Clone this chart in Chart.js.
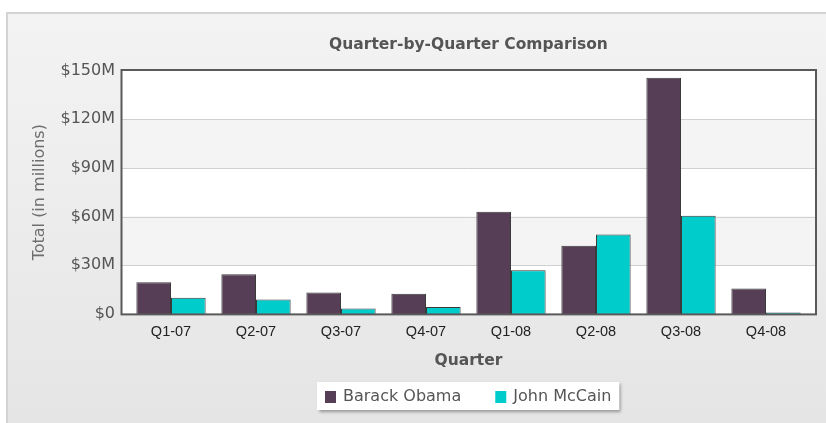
<!DOCTYPE html>
<html>
<head>
<meta charset="utf-8">
<script src="https://cdn.jsdelivr.net/npm/chart.js@4.4.1/dist/chart.umd.min.js"></script>
<style>
  html, body { margin: 0; padding: 0; background: #fff; }
  canvas { display: block; }
</style>
</head>
<body>
<canvas id="mycanvas" width="826" height="423"></canvas>
<script>
// values, in millions of dollars
var quarters = ['Q1-07', 'Q2-07', 'Q3-07', 'Q4-07', 'Q1-08', 'Q2-08', 'Q3-08', 'Q4-08'];
var obama = [19.5, 24.5, 13.2, 12.4, 63, 42, 145.6, 15.7];
var mccain = [10, 8.9, 3.4, 4.2, 26.9, 48.9, 60.5, 0.9];
var yTicks = [0, 30, 60, 90, 120, 150];

// panel, striped plot frame and grid lines
var frame = {
    id: 'frame',
    beforeDraw: function(chart) {
        var ctx = chart.ctx;
        ctx.save();
        ctx.fillStyle = '#ffffff';
        ctx.fillRect(0, 0, chart.width, chart.height);
        ctx.fillStyle = '#d3d3d3';
        ctx.fillRect(6, 12, chart.width - 6, chart.height - 12);
        var g = ctx.createLinearGradient(0, 14, 0, chart.height);
        g.addColorStop(0, '#f3f3f3');
        g.addColorStop(1, '#e5e5e5');
        ctx.fillStyle = g;
        ctx.fillRect(8, 14, chart.width - 8, chart.height - 14);
        ctx.restore();
    },
    beforeDatasetsDraw: function(chart) {
        var ctx = chart.ctx, a = chart.chartArea, y = chart.scales.y;
        var left = a.left - 7, right = a.right + 7;
        ctx.save();
        for (var i = 0; i < yTicks.length - 1; i++) {
            var y0 = y.getPixelForValue(yTicks[i]);
            var y1 = y.getPixelForValue(yTicks[i + 1]);
            ctx.fillStyle = (i % 2) ? '#f4f4f4' : '#ffffff';
            ctx.fillRect(left, y1, right - left, y0 - y1);
        }
        ctx.strokeStyle = '#d0d0d0';
        ctx.lineWidth = 1;
        for (var j = 1; j < yTicks.length - 1; j++) {
            var py = Math.round(y.getPixelForValue(yTicks[j])) + 0.5;
            ctx.beginPath();
            ctx.moveTo(left, py);
            ctx.lineTo(right, py);
            ctx.stroke();
        }
        ctx.restore();
    },
    afterDatasetsDraw: function(chart) {
        var ctx = chart.ctx, a = chart.chartArea;
        ctx.save();
        ctx.strokeStyle = '#595959';
        ctx.lineWidth = 2;
        ctx.strokeRect(a.left - 7, a.top - 0.5, a.right - a.left + 14.5, a.bottom - a.top + 1);
        ctx.restore();
    }
};

// white legend box with shadow, below the axis title
var legendBox = {
    id: 'legendBox',
    afterDraw: function(chart) {
        var ctx = chart.ctx, a = chart.chartArea;
        var sets = chart.data.datasets;
        ctx.save();
        ctx.font = '16px "DejaVu Sans"';
        var widths = sets.map(function(d) { return ctx.measureText(d.label).width; });
        var sq = 11, gap = 7, between = 34, pad = 8;
        var w = pad * 2 + sets.length * (sq + gap) + between * (sets.length - 1);
        widths.forEach(function(v) { w += v; });
        var x = Math.round((a.left + a.right) / 2 - w / 2), y = chart.height - 41, h = 28;
        ctx.shadowColor = 'rgba(0,0,0,0.35)';
        ctx.shadowBlur = 3;
        ctx.shadowOffsetX = 2;
        ctx.shadowOffsetY = 2;
        ctx.fillStyle = '#ffffff';
        ctx.fillRect(x, y, w, h);
        ctx.shadowColor = 'transparent';
        var cy = y + h / 2;
        var px = x + pad;
        ctx.textBaseline = 'middle';
        sets.forEach(function(d, i) {
            ctx.fillStyle = d.backgroundColor;
            ctx.fillRect(px, Math.round(cy - 5), sq, 12);
            px += sq + gap;
            ctx.fillStyle = '#555555';
            ctx.fillText(d.label, px, cy + 1);
            px += widths[i] + between;
        });
        ctx.restore();
    }
};

var chartdata = {
    labels: quarters,
    datasets: [
        {
            label: 'Barack Obama',
            backgroundColor: '#573e57',
            borderColor: '#3a3a3a',
            borderWidth: 1,
            data: obama
        },
        {
            label: 'John McCain',
            backgroundColor: '#00cccc',
            borderColor: '#3a3a3a',
            borderWidth: 1,
            data: mccain
        }
    ]
};

var ctx = document.getElementById('mycanvas');

var barGraph = new Chart(ctx, {
    type: 'bar',
    data: chartdata,
    plugins: [frame, legendBox],
    options: {
        responsive: false,
        animation: false,
        layout: { padding: { left: 0, right: 17.5, top: 0, bottom: 53.1 } },
        datasets: { bar: { categoryPercentage: 0.815, barPercentage: 1.0 } },
        plugins: {
            legend: { display: false },
            tooltip: { enabled: false },
            title: {
                display: true,
                text: 'Quarter-by-Quarter Comparison',
                fullSize: false,
                color: '#555555',
                font: { family: 'DejaVu Sans', size: 15.5, weight: 'bold' },
                padding: { top: 35.7, bottom: 16.2 }
            }
        },
        scales: {
            x: {
                grid: { display: false, drawTicks: false, tickLength: 0 },
                border: { display: false },
                ticks: {
                    color: '#222222',
                    font: { family: 'Liberation Sans', size: 14.5 },
                    padding: 9
                },
                title: {
                    display: true,
                    text: 'Quarter',
                    color: '#555555',
                    font: { family: 'DejaVu Sans', size: 15.5, weight: 'bold' },
                    padding: { top: 2, bottom: 0 }
                }
            },
            y: {
                min: yTicks[0],
                max: yTicks[yTicks.length - 1],
                grid: { display: false, drawTicks: false, tickLength: 0 },
                border: { display: false },
                afterFit: function(scale) { scale.width = 128.5; },
                ticks: {
                    stepSize: 30,
                    color: '#555555',
                    font: { family: 'DejaVu Sans', size: 16 },
                    padding: 13.5,
                    callback: function(v) { return v === 0 ? '$0' : '$' + v + 'M'; }
                },
                title: {
                    display: true,
                    text: 'Total (in millions)',
                    color: '#6e6e6e',
                    font: { family: 'DejaVu Sans', size: 16 },
                    padding: { top: 30.4, bottom: 0 }
                }
            }
        }
    }
});
</script>
</body>
</html>
